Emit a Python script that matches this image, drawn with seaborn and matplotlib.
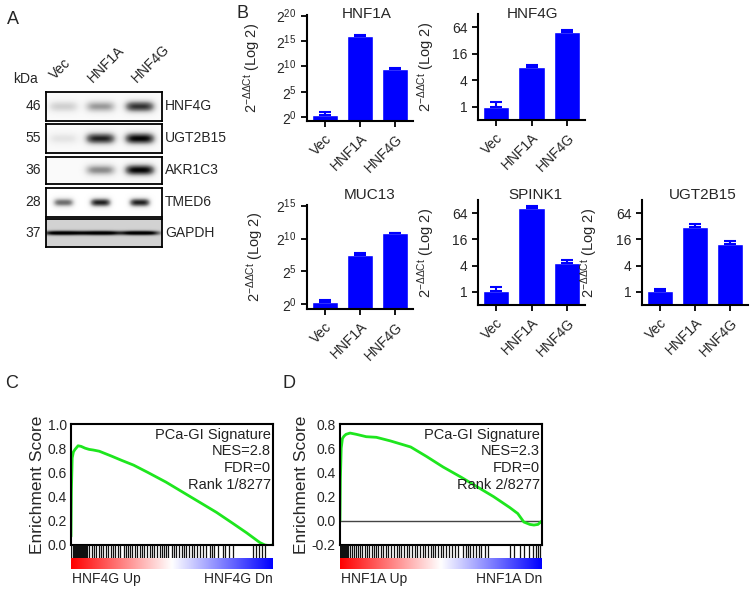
import numpy as np
import pandas as pd
import matplotlib
matplotlib.use('Agg')
import matplotlib.pyplot as plt
import seaborn as sns

sns.set_style('ticks')
plt.rcParams['font.family'] = ['Liberation Sans', 'DejaVu Sans']
plt.rcParams['mathtext.fontset'] = 'custom'
plt.rcParams['mathtext.rm'] = 'Liberation Sans'
plt.rcParams['mathtext.it'] = 'Liberation Sans:italic'

# ---- data ----
groups = ['Vec', 'HNF1A', 'HNF4G']

# western blot (band darkness per lane, 0..1)
blot_rows = ['HNF4G', 'UGT2B15', 'AKR1C3', 'TMED6', 'GAPDH']
blot_kda = ['46', '55', '36', '28', '37']
band_hnf4g = [0.25, 0.45, 0.8]
band_ugt2b15 = [0.15, 0.85, 0.95]
band_akr1c3 = [0.0, 0.5, 0.95]
band_tmed6 = [0.65, 0.9, 0.9]
band_gapdh = [0.85, 0.85, 0.85]

# qPCR, 2^-ddCt (mean, mean+sem)
hnf1a_vals = [2**0.4, 2**15.9, 2**9.6]
hnf1a_errs = [2**1.05, 2**16.1, 2**9.65]
hnf4g_vals = [1.0, 7.9, 50]
hnf4g_errs = [1.28, 9.0, 55]
muc13_vals = [2**0.4, 2**7.5, 2**10.85]
muc13_errs = [2**0.7, 2**7.8, 2**10.9]
spink1_vals = [1.05, 82, 4.6]
spink1_errs = [1.32, 92, 5.3]
ugt2b15_vals = [1.05, 31.5, 12.8]
ugt2b15_errs = [1.15, 36, 14.7]

# GSEA running enrichment score
es_c_x = [0, 0.002, 0.006, 0.012, 0.02, 0.035, 0.05, 0.07, 0.09, 0.11, 0.14, 0.2,
          0.25, 0.31, 0.38, 0.47, 0.55, 0.64, 0.72, 0.8, 0.87, 0.935, 0.96, 0.98, 1.0]
es_c_y = [0.07, 0.45, 0.72, 0.77, 0.79, 0.82, 0.815, 0.8, 0.79, 0.785, 0.775, 0.735,
          0.7, 0.66, 0.6, 0.52, 0.44, 0.35, 0.27, 0.18, 0.1, 0.02, 0.0, -0.005, 0.0]
es_d_x = [0, 0.002, 0.006, 0.012, 0.02, 0.03, 0.05, 0.08, 0.13, 0.18, 0.25, 0.35,
          0.43, 0.51, 0.6, 0.68, 0.76, 0.84, 0.88, 0.91, 0.94, 0.96, 0.98, 1.0]
es_d_y = [0.0, 0.35, 0.6, 0.68, 0.7, 0.715, 0.725, 0.715, 0.695, 0.69, 0.66, 0.61,
          0.53, 0.445, 0.36, 0.28, 0.2, 0.11, 0.06, -0.01, -0.03, -0.035, -0.03, 0.0]
hits_c = [0.002, 0.008, 0.013, 0.018, 0.022, 0.027, 0.031, 0.036, 0.04, 0.045, 0.05,
          0.055, 0.06, 0.064, 0.07, 0.075, 0.08, 0.09, 0.105, 0.115, 0.125, 0.14, 0.15,
          0.16, 0.175, 0.185, 0.2, 0.21, 0.22, 0.235, 0.245, 0.26, 0.27, 0.28, 0.29, 0.3,
          0.315, 0.325, 0.34, 0.35, 0.36, 0.375, 0.39, 0.4, 0.41, 0.425, 0.44, 0.45, 0.46,
          0.47, 0.48, 0.5, 0.51, 0.52, 0.535, 0.55, 0.56, 0.57, 0.585, 0.6, 0.61, 0.625,
          0.64, 0.655, 0.67, 0.69, 0.7, 0.71, 0.73, 0.75, 0.76, 0.78, 0.8, 0.9, 0.915,
          0.93, 0.945, 0.96]
hits_d = [0.001, 0.005, 0.009, 0.013, 0.017, 0.021, 0.025, 0.03, 0.035, 0.04, 0.05,
          0.06, 0.07, 0.08, 0.09, 0.1, 0.11, 0.125, 0.135, 0.145, 0.16, 0.17, 0.18, 0.19,
          0.205, 0.215, 0.23, 0.24, 0.25, 0.265, 0.28, 0.29, 0.3, 0.315, 0.33, 0.34,
          0.355, 0.37, 0.38, 0.395, 0.41, 0.42, 0.435, 0.45, 0.46, 0.47, 0.485, 0.5,
          0.51, 0.525, 0.54, 0.555, 0.57, 0.585, 0.61, 0.625, 0.635, 0.645, 0.66, 0.675,
          0.69, 0.7, 0.72, 0.735, 0.84, 0.86, 0.89, 0.91, 0.935, 0.955, 0.97, 0.98, 0.99]

W, H = 754, 590
fig = plt.figure(figsize=(W / 100, H / 100), dpi=100)


def px_axes(x0, y0, x1, y1):
    return fig.add_axes([x0 / W, 1 - y1 / H, (x1 - x0) / W, (y1 - y0) / H])


def px_text(x, y, s, **kw):
    fig.text(x / W, 1 - y / H, s, **kw)


# ---- panel A: blot ----
px_text(7, 20, 'A', fontsize=13, va='center')
px_text(25, 79, 'kDa', fontsize=10, ha='center', va='center')
lane_pos = [(57, 82), (95, 85), (139, 85)]
for (lx, ly), name in zip(lane_pos, groups):
    px_text(lx, ly, name, fontsize=10, rotation=45, ha='left', va='bottom',
            rotation_mode='anchor')

row_boxes = [(92, 121), (124, 153), (157, 184), (188, 217), (219, 247)]
row_bands = [band_hnf4g, band_ugt2b15, band_akr1c3, band_tmed6, band_gapdh]
lane_centers = [0.15, 0.47, 0.81]
xx, yy = np.meshgrid(np.linspace(0, 1, 240), np.linspace(0, 1, 60))
for (y0, y1), name, kda, bands in zip(row_boxes, blot_rows, blot_kda, row_bands):
    ax = px_axes(46, y0, 162, y1)
    if name == 'GAPDH':
        bg, wy, wx = 0.28, 0.08, 0.17
    elif name == 'TMED6':
        bg, wy, wx = 0.0, 0.15, 0.09
    else:
        bg, wy, wx = 0.04, 0.2, 0.13
    img = np.full(xx.shape, bg)
    for c, b in zip(lane_centers, bands):
        img += b * np.exp(-((xx - c) / wx) ** 4) * np.exp(-((yy - 0.5) / wy) ** 2)
    ax.imshow(np.clip(img, 0, 1), cmap='Greys', vmin=0, vmax=1, aspect='auto',
              extent=[0, 1, 0, 1], interpolation='bilinear')
    ax.set_xticks([])
    ax.set_yticks([])
    for s in ax.spines.values():
        s.set_linewidth(1.3)
        s.set_color('black')
    ym = (y0 + y1) / 2
    px_text(41, ym, kda, fontsize=10, ha='right', va='center')
    px_text(165, ym, name, fontsize=10, ha='left', va='center')

# ---- panel B: qPCR bars ----
px_text(236, 14, 'B', fontsize=13, va='center')
blue = '#0000ff'
ylab = r'$\mathregular{2^{-\Delta\Delta Ct}}$ (Log 2)'


def bar_panel(box, title, title_xy, vals, errs, kind, ylab_x):
    ax = px_axes(*box)
    df = pd.DataFrame({'group': groups, 'value': vals})
    sns.barplot(data=df, x='group', y='value', color=blue, saturation=1, width=0.74,
                errorbar=None, ax=ax)
    ax.set_yscale('log', base=2)
    ax.errorbar(range(3), vals, yerr=[np.zeros(3), np.array(errs) - np.array(vals)],
                fmt='none', ecolor=blue, elinewidth=1.5, capsize=4, capthick=1.5)
    if kind == 'pow':
        top = 20 if title == 'HNF1A' else 15
        ticks = [2 ** k for k in range(0, top + 1, 5)]
        ax.set_yticks(ticks)
        ax.set_yticklabels([r'$\mathregular{2^{%d}}$' % k for k in range(0, top + 1, 5)])
        ax.set_ylim(2 ** -0.7, 2 ** (top + 0.1))
    else:
        ax.set_yticks([1, 4, 16, 64])
        ax.set_yticklabels(['1', '4', '16', '64'])
        ax.set_ylim(0.5, 128)
    ax.minorticks_off()
    ax.set_xlim(-0.5, 2.5)
    ax.set_xlabel('')
    ax.set_ylabel(ylab, fontsize=10.5)
    ax.yaxis.set_label_coords((ylab_x - box[0]) / (box[2] - box[0]), 0.5)
    ax.set_xticks(range(3))
    ax.set_xticklabels(groups, rotation=45, ha='right', rotation_mode='anchor')
    ax.tick_params(labelsize=10, length=4, width=1.3, color='black')
    sns.despine(ax=ax)
    for s in ('left', 'bottom'):
        ax.spines[s].set_linewidth(1.5)
        ax.spines[s].set_color('black')
    px_text(title_xy[0], title_xy[1], title, fontsize=11, ha='center', va='center')


bar_panel((307, 15, 413, 121), 'HNF1A', (367, 14), hnf1a_vals, hnf1a_errs, 'pow', 263)
bar_panel((478, 14, 585, 120), 'HNF4G', (532, 14), hnf4g_vals, hnf4g_errs, 'lin', 437)
bar_panel((307, 205, 413, 309), 'MUC13', (370, 195), muc13_vals, muc13_errs, 'pow', 266)
bar_panel((478, 200, 585, 305), 'SPINK1', (535, 195), spink1_vals, spink1_errs, 'lin', 437)
bar_panel((642, 200, 748, 305), 'UGT2B15', (703, 195), ugt2b15_vals, ugt2b15_errs, 'lin', 600)

# ---- panels C, D: GSEA ----
green = '#1ee61e'


def gsea_panel(x0, x1, letter, es_x, es_y, hits, ylim, yticks, nes, rank, name, letter_x):
    ax = px_axes(x0, 424, x1, 545)
    sns.lineplot(x=es_x, y=es_y, color=green, lw=2, sort=False, estimator=None, ax=ax)
    if ylim[0] < 0:
        ax.axhline(0, color='#444444', lw=1, zorder=1)
    ax.set_xlim(0, 1)
    ax.set_ylim(*ylim)
    ax.set_xticks([])
    ax.set_yticks(yticks)
    ax.set_yticklabels(['%.1f' % t for t in yticks])
    ax.tick_params(labelsize=10, length=0, pad=3)
    for s in ax.spines.values():
        s.set_linewidth(1.5)
        s.set_color('black')
    ax.set_ylabel('Enrichment Score', fontsize=12.5, labelpad=2)
    ax.text(0.99, 0.97, 'PCa-GI Signature\nNES=%s\nFDR=0\nRank %s' % (nes, rank),
            transform=ax.transAxes, ha='right', va='top', fontsize=10.5,
            linespacing=1.25, color='#222222')
    bc = px_axes(x0, 545, x1, 558)
    bc.vlines(hits, 0, 1, color='#111111', lw=0.9)
    bc.set_xlim(0, 1)
    bc.set_ylim(0, 1)
    bc.axis('off')
    cb = px_axes(x0, 558, x1, 569)
    cb.imshow(np.linspace(0, 1, 256)[None, :], cmap='bwr_r', aspect='auto',
              extent=[0, 1, 0, 1])
    cb.axis('off')
    px_text(x0 + 1, 579, name + ' Up', fontsize=10, ha='left', va='center')
    px_text(x1, 579, name + ' Dn', fontsize=10, ha='right', va='center')
    px_text(letter_x, 384, letter, fontsize=13, va='center')


gsea_panel(71, 273, 'C', es_c_x, es_c_y, hits_c, (0, 1.0),
           [0, 0.2, 0.4, 0.6, 0.8, 1.0], '2.8', '1/8277', 'HNF4G', 5)
gsea_panel(340, 542, 'D', es_d_x, es_d_y, hits_d, (-0.2, 0.8),
           [-0.2, 0, 0.2, 0.4, 0.6, 0.8], '2.3', '2/8277', 'HNF1A', 283)

fig.savefig('out.png', dpi=100)
